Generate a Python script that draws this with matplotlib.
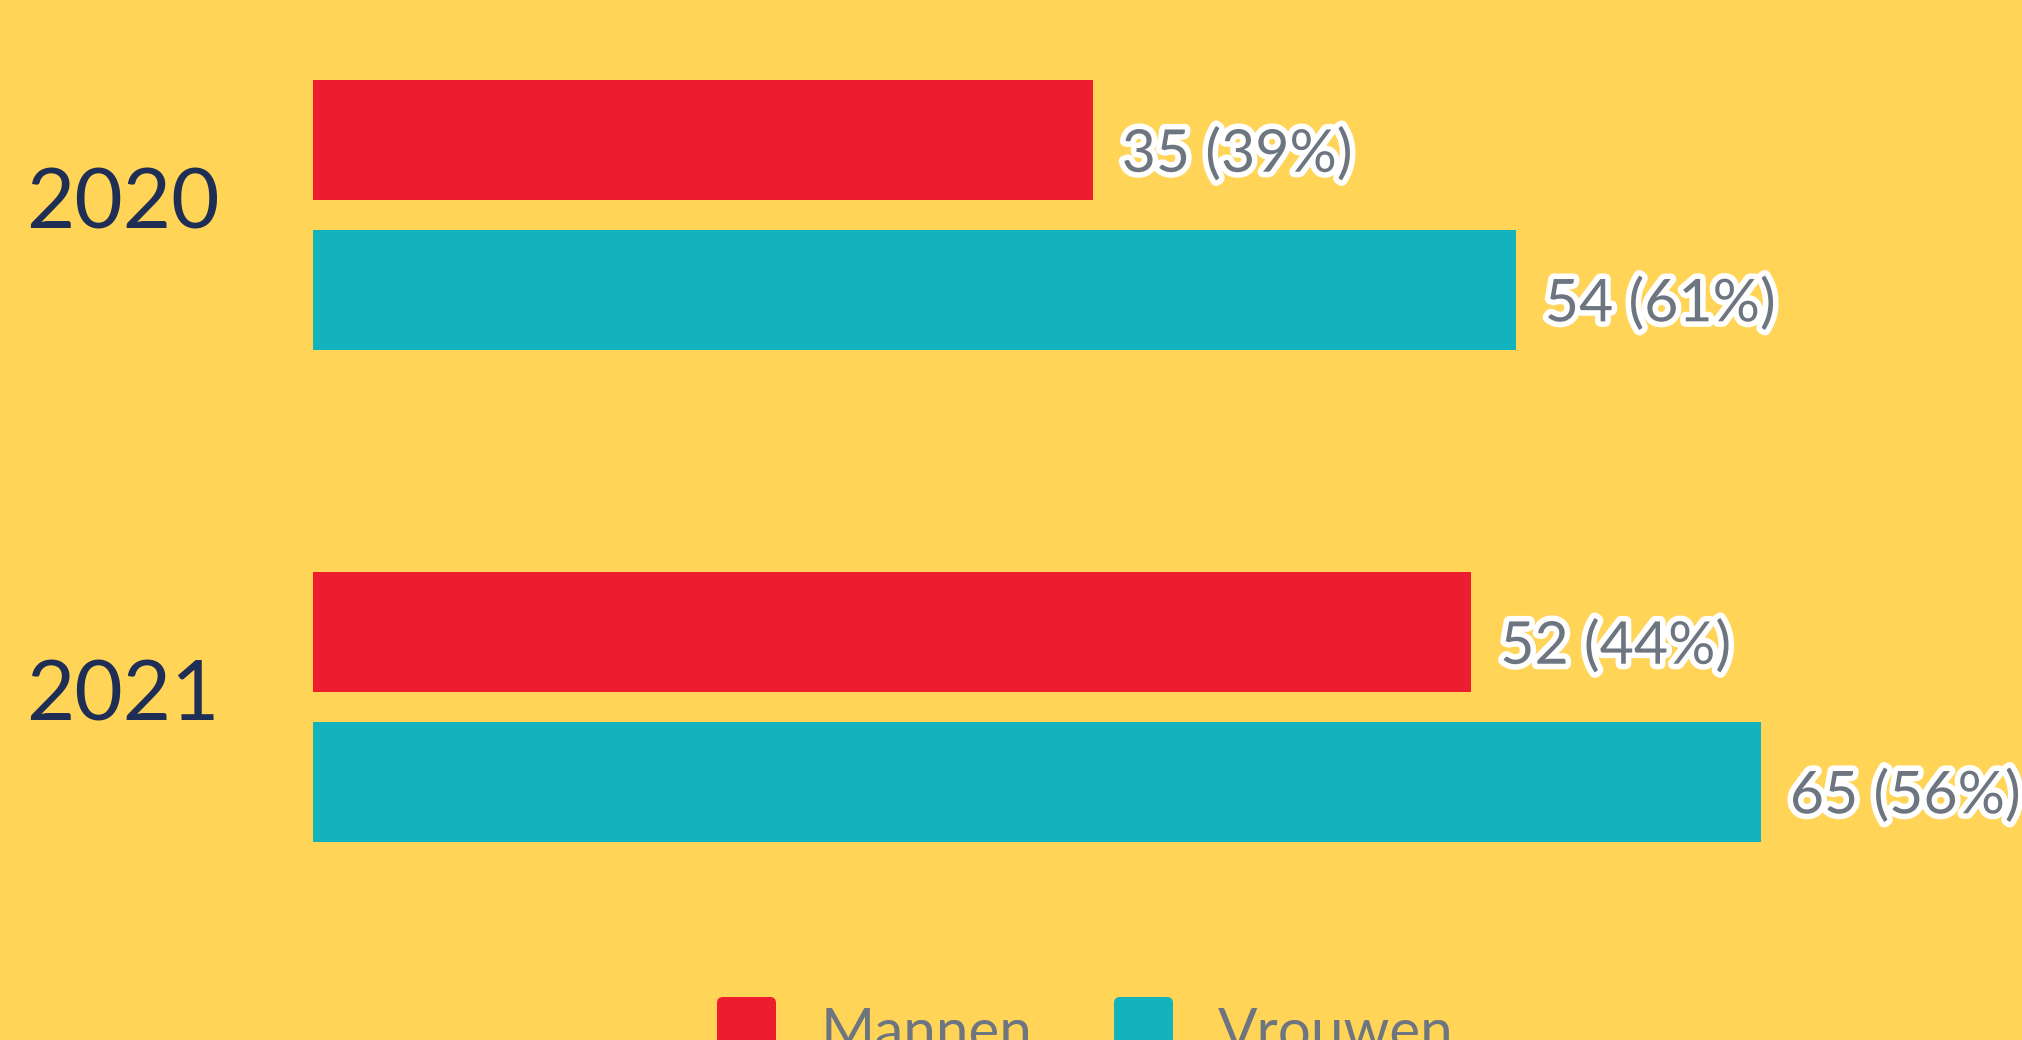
import matplotlib
matplotlib.use('Agg')
import matplotlib.pyplot as plt
import matplotlib.patheffects as pe
import matplotlib.transforms as mtransforms
from matplotlib.patches import FancyBboxPatch
import numpy as np

# ---- data ----
years = ['2020', '2021']
mannen = [35, 52]
vrouwen = [54, 65]
mannen_pct = [39, 44]
vrouwen_pct = [61, 56]
series_names = ['Mannen', 'Vrouwen']

# ---- style ----
BG = '#FFD457'
RED = '#ED1C2E'
TEAL = '#12B3BC'
NAVY = '#1F2E55'
GRAY = '#6D7580'
FONT = ['Lato', 'DejaVu Sans']

W, H, DPI = 2022, 1040, 100
fig = plt.figure(figsize=(W / DPI, H / DPI), dpi=DPI, facecolor=BG)
pxT = mtransforms.Affine2D().scale(1 / W, 1 / H) + fig.transFigure

ax = fig.add_axes([313 / W, 100 / H, 1559 / W, 940 / H])
ax.set_facecolor(BG)
ax.set_xlim(0, 70)
ax.set_ylim(1.4736, -0.437)
for s in ax.spines.values():
    s.set_visible(False)
ax.set_xticks([])
ax.set_yticks([])

y = np.arange(len(years))
bh = 0.244
off = 0.152
ax.barh(y - off, mannen, height=bh, color=RED, linewidth=0)
ax.barh(y + off, vrouwen, height=bh, color=TEAL, linewidth=0)

stroke = [pe.withStroke(linewidth=8, foreground='white')]
for yi, v, p in zip(y - off, mannen, mannen_pct):
    ax.annotate(f'{v} ({p}%)', xy=(v, yi), xytext=(21, -22.7), textcoords='offset points',
                ha='left', va='baseline', fontsize=42.5, color=GRAY, family=FONT,
                path_effects=stroke, annotation_clip=False)
for yi, v, p in zip(y + off, vrouwen, vrouwen_pct):
    ax.annotate(f'{v} ({p}%)', xy=(v, yi), xytext=(21, -22.7), textcoords='offset points',
                ha='left', va='baseline', fontsize=42.5, color=GRAY, family=FONT,
                path_effects=stroke, annotation_clip=False)

# year labels
yt = mtransforms.blended_transform_factory(fig.transFigure, ax.transData)
yt = yt + mtransforms.ScaledTranslation(0, -13.5 / DPI, fig.dpi_scale_trans)
for yi, lab in zip(y, years):
    ax.text(26 / W, yi, lab, transform=yt, ha='left', va='baseline',
            fontsize=60, color=NAVY, family=FONT, clip_on=False)

# legend (bottom, partially cut off)
legend_x = [717, 1114]
for xi, name, col in zip(legend_x, series_names, [RED, TEAL]):
    fig.add_artist(FancyBboxPatch((xi, H - 997 - 59), 59, 59,
                                  boxstyle='round,pad=0,rounding_size=6',
                                  transform=pxT, facecolor=col, edgecolor='none'))
    fig.text(xi + 104, H - 1050, name, transform=pxT, ha='left', va='baseline',
             fontsize=42, color=GRAY, family=FONT)

fig.savefig('out.png', dpi=DPI, facecolor=BG)
